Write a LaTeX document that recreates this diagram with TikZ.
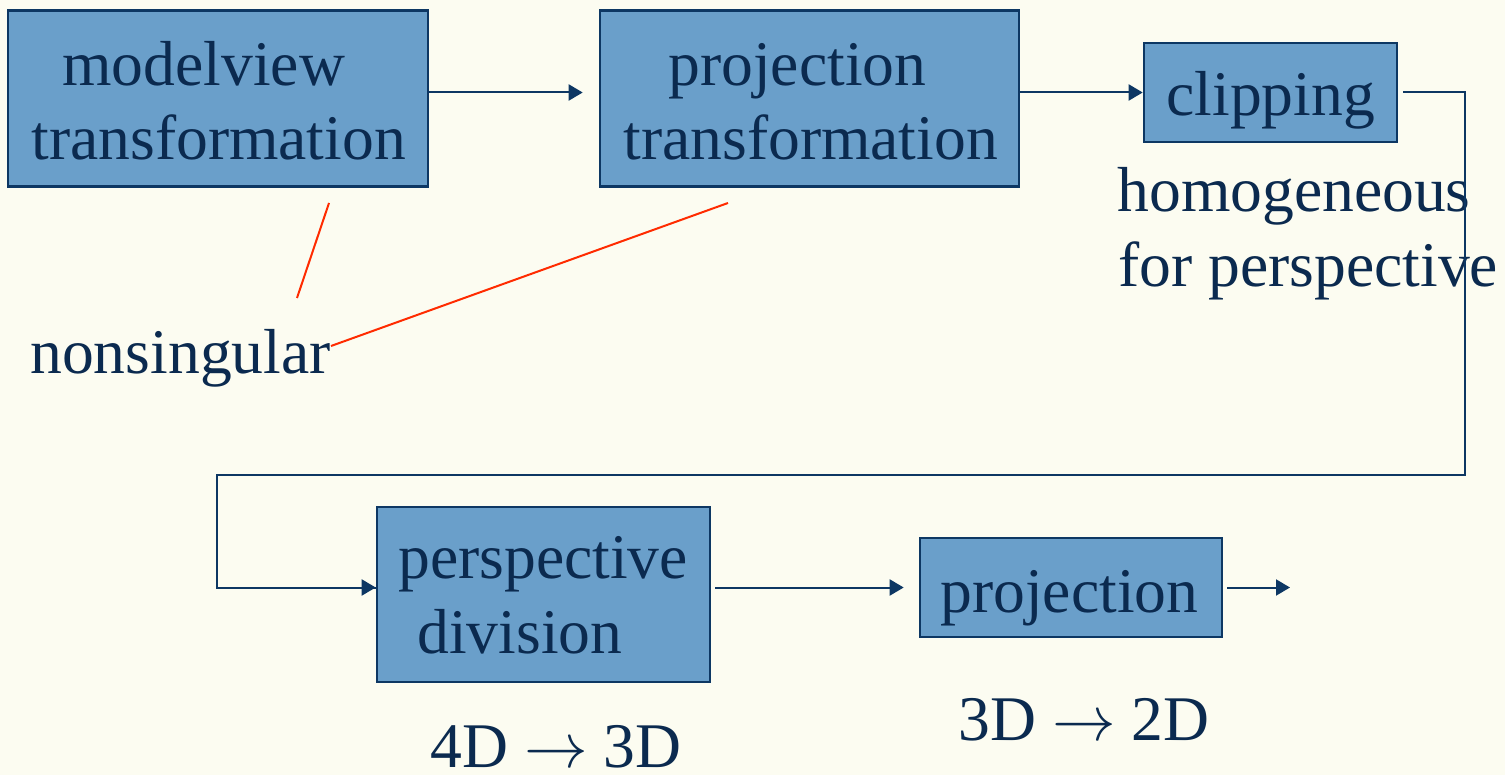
\RequirePackage{fix-cm}
\documentclass[tikz,border=0pt]{standalone}
\usepackage{fontspec}
\setmainfont{Liberation Serif}
\usetikzlibrary{arrows.meta}
\definecolor{bg}{HTML}{FCFCF1}
\definecolor{boxfill}{HTML}{6A9FCA}
\definecolor{boxline}{HTML}{0D3763}
\definecolor{txt}{HTML}{0B2A4F}
\definecolor{redline}{HTML}{FF2B00}
\begin{document}
\begin{tikzpicture}[x=0.5pt,y=-0.5pt,
  stagebox/.style={draw=boxline, line width=1.3pt, fill=boxfill, inner sep=0pt, rectangle},
  lbl/.style={anchor=base west, inner sep=0pt, text=txt, font=\fontsize{31.8}{37.5}\selectfont},
  wire/.style={draw=boxline, line width=1pt},
  conn/.style={wire, -{Triangle[length=7pt,width=8pt]}},
  note/.style={draw=redline, line width=1pt}]
\useasboundingbox[fill=bg] (0,0) rectangle (1505,775);

% boxes
\node[stagebox, minimum width=210pt, minimum height=88pt] (b1) at (218,98.5) {};
\node[stagebox, minimum width=209.5pt, minimum height=88pt] (b2) at (809.5,98.5) {};
\node[stagebox, minimum width=126.5pt, minimum height=49.5pt] (b3) at (1270.5,92.5) {};
\node[stagebox, minimum width=166.5pt, minimum height=87.5pt] (b4) at (543.5,594.5) {};
\node[stagebox, minimum width=151pt, minimum height=49.5pt] (b5) at (1071,587.5) {};

% box texts
\node[lbl] (t1a) at (62,86) {modelview};
\node[lbl] (t1b) at (31,160) {transformation};
\node[lbl] (t2a) at (668,86) {projection};
\node[lbl] (t2b) at (623,160) {transformation};
\node[lbl] (t3) at (1166,116) {clipping};
\node[lbl] (t4a) at (398,578) {perspective};
\node[lbl] (t4b) at (417,653) {division};
\node[lbl] (t5) at (940,612) {projection};

% free texts
\node[lbl] (h1) at (1117,212) {homogeneous};
\node[lbl] (h2) at (1118,287) {for perspective};
\node[lbl] (ns) at (30,373) {nonsingular};
\node[lbl] (d43) at (430,767) {4D $\rightarrow$ 3D};
\node[lbl] (d32) at (958,740) {3D $\rightarrow$ 2D};

% connectors
\draw[conn, shorten >=8pt] (b1.east |- b3.center) -- (b2.west |- b3.center);
\draw[conn] (b2.east |- b3.center) -- (b3.west);
\coordinate (k1) at (1465,92.5);
\coordinate (k2) at (1465,475);
\coordinate (k3) at (217,475);
\coordinate (k4) at (217,587.5);
\draw[wire, line join=miter] ([xshift=2.5pt]b3.east) -- (k1) -- (k2) -- (k3) -- (k4) -- (k4 -| b4.west);
\draw[conn] (k4) -- (k4 -| b4.west);
\draw[conn, shorten <=2pt, shorten >=7.5pt] (b4.east |- b5.center) -- (b5.west);
\coordinate (out) at (1290,587.5);
\draw[conn, shorten <=2pt] (b5.east) -- (out);

% red annotation lines
\coordinate (r1a) at (329,203);
\coordinate (r1b) at (297,298);
\coordinate (r2a) at (728,203);
\coordinate (r2b) at (331,346);
\draw[note] (r1a) -- (r1b);
\draw[note] (r2a) -- (r2b);
\end{tikzpicture}
\end{document}
